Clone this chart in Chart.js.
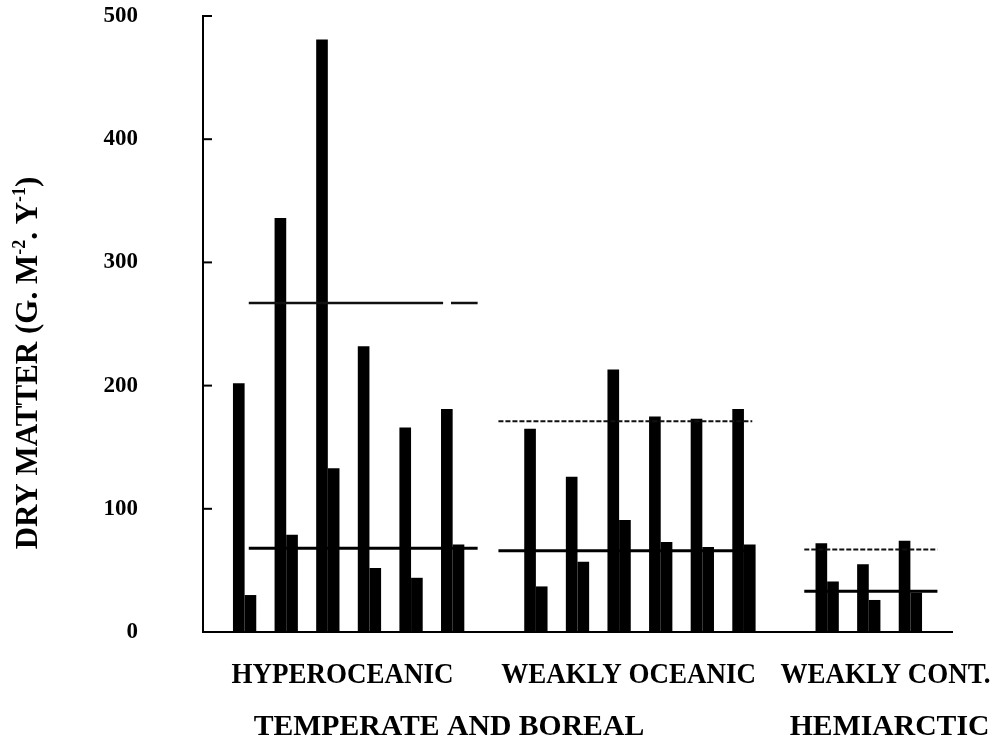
<!DOCTYPE html>
<html><head><meta charset="utf-8">
<script src="https://cdn.jsdelivr.net/npm/chart.js@4.4.1/dist/chart.umd.min.js"></script>
<style>html,body{margin:0;padding:0;background:#fff}#wrap{width:995px;height:740px;position:relative}</style>
</head><body><div id="wrap"><canvas id="c"></canvas></div>
<script>
// Slots along the x axis (padding, 6 hyperoceanic sites, gap, 6 weakly oceanic, gap, 3 weakly continental, padding)
const slots = ['padStart','H1','H2','H3','H4','H5','H6','gap1','O1','O2','O3','O4','O5','O6','gap2','C1','C2','C3','padEnd'];
// Tall (left) bar of each pair, g m-2 y-1
const tallValues  = [null,202,336,481,232,166,181,null,165,126,213,175,173,181,null,72,55,74,null];
// Short (right) bar of each pair
const shortValues = [null,30,79,133,52,44,71,null,37,57,91,73,69,71,null,41,26,32,null];
// Mean lines per group (upper = tall bars, lower = short bars)
const meanUpper = [267,171,67];
const meanLower = [68,66,33];
// Extent of each group's mean lines, in slot units
const meanSpanStart = [1.1,7.1,14.45];
const meanSpanEnd   = [6.6,13.2,17.65];
const upperGap = [5.77,5.96];   // break in the first upper line
const yTicks = [0,100,200,300,400,500];
const groupRow1 = ['HYPEROCEANIC','WEAKLY OCEANIC','WEAKLY CONT.'];
const groupRow1At = [3.35,10.23,16.4];
const groupRow2 = ['TEMPERATE AND BOREAL','HEMIARCTIC'];
const groupRow2At = [5.91,16.5];

const toPoints = arr => arr.map((v,i) => ({x:i, y:v})).filter(p => p.y !== null);

const lineSets = [];
for (let g = 0; g < 3; g++) {
  let up;
  if (g === 0) {
    up = [{x:meanSpanStart[g],y:meanUpper[g]},{x:upperGap[0],y:meanUpper[g]},{x:(upperGap[0]+upperGap[1])/2,y:null},{x:upperGap[1],y:meanUpper[g]},{x:meanSpanEnd[g],y:meanUpper[g]}];
  } else {
    up = [{x:meanSpanStart[g],y:meanUpper[g]},{x:meanSpanEnd[g],y:meanUpper[g]}];
  }
  lineSets.push({type:'line', data:up, borderColor:'#111', borderWidth:g===0?2.5:2, borderDash:g===0?[]:[5,2], pointRadius:0, spanGaps:false, order:0});
  lineSets.push({type:'line', data:[{x:meanSpanStart[g],y:meanLower[g]},{x:meanSpanEnd[g],y:meanLower[g]}], borderColor:'#000', borderWidth:3, pointRadius:0, order:0});
}

const SERIF = '"Liberation Serif", "DejaVu Serif", serif';

const decorations = {
  id:'decorations',
  afterDraw(chart){
    const ctx = chart.ctx, ys = chart.scales.y, xs = chart.scales.x, a = chart.chartArea;
    ctx.save();
    ctx.strokeStyle = '#000'; ctx.lineWidth = 2;
    for (const v of yTicks) {
      const py = ys.getPixelForValue(v);
      ctx.beginPath(); ctx.moveTo(a.left, py); ctx.lineTo(a.left + 9, py); ctx.stroke();
    }
    ctx.fillStyle = '#000'; ctx.textAlign = 'center'; ctx.textBaseline = 'alphabetic';
    ctx.font = 'bold 30px ' + SERIF;
    const drawCond = (t, px, py, sx) => { ctx.save(); ctx.translate(px, py); ctx.scale(sx, 1); ctx.fillText(t, 0, 0); ctx.restore(); };
    groupRow1.forEach((t,i) => drawCond(t, xs.getPixelForValue(groupRow1At[i]), a.bottom + 51, 0.9));
    groupRow2.forEach((t,i) => drawCond(t, xs.getPixelForValue(groupRow2At[i]), a.bottom + 103, 0.99));
    const pieces = [{t:'DRY MATTER (G. M'},{t:'-2',s:1},{t:'. Y'},{t:'-1',s:1},{t:')'}];
    const mainF = 'bold 31px ' + SERIF, supF = 'bold 18px ' + SERIF;
    let total = 0;
    pieces.forEach(p => { ctx.font = p.s ? supF : mainF; p.w = ctx.measureText(p.t).width; total += p.w; });
    ctx.translate(37, (a.top + a.bottom) / 2 + 39);
    ctx.rotate(-Math.PI / 2);
    ctx.textAlign = 'left';
    let cx = -total / 2;
    pieces.forEach(p => { ctx.font = p.s ? supF : mainF; ctx.fillText(p.t, cx, p.s ? -12 : 0); cx += p.w; });
    ctx.restore();
  }
};

new Chart(document.getElementById('c'), {
  type:'bar',
  data:{
    datasets:[
      {label:'tall', data:toPoints(tallValues), backgroundColor:'#000', borderWidth:0, barPercentage:1, categoryPercentage:0.56, order:1},
      {label:'short', data:toPoints(shortValues), backgroundColor:'#000', borderWidth:0, barPercentage:1, categoryPercentage:0.56, order:1},
      ...lineSets
    ]
  },
  options:{
    responsive:true, maintainAspectRatio:false, animation:false,
    layout:{padding:{left:0,right:43,top:16,bottom:0}},
    plugins:{legend:{display:false}, tooltip:{enabled:false}},
    scales:{
      x:{type:'linear', min:0, max:slots.length-1, offset:false, grid:{display:false, drawTicks:false, offset:false}, ticks:{display:false},
         border:{display:true,color:'#000',width:2}, afterFit(s){ s.height = 108; s.paddingLeft = 0; s.paddingRight = 0; }},
      y:{type:'linear', min:0, max:500, grid:{display:false, drawTicks:false},
         border:{display:true,color:'#000',width:2},
         ticks:{stepSize:100, padding:65, color:'#000', font:{family:'Liberation Serif', weight:'bold', size:23}},
         afterFit(s){ s.width = 203; s.paddingTop = 0; s.paddingBottom = 0; }}
    }
  },
  plugins:[decorations]
});
</script>
</body></html>
